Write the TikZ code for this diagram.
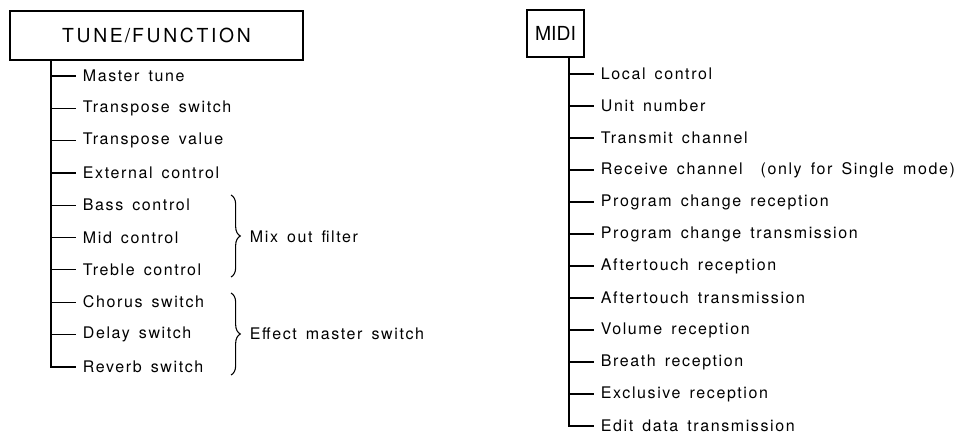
\documentclass[tikz,border=0pt]{standalone}
\usepackage{fontspec}
\setmainfont{TeX Gyre Heros}
\newfontfamily\spacedfont[LetterSpace=10, WordSpace=1.5]{TeX Gyre Heros}
\newfontfamily\headfont{TeX Gyre Heros}
\usetikzlibrary{positioning, calc, decorations.pathreplacing}

\begin{document}
\begin{tikzpicture}[x=0.75pt, y=-0.75pt,
  titlebox/.style={draw, line width=0.9pt, inner sep=0pt, font=\headfont\fontsize{14.5}{16}\selectfont},
  entry/.style={anchor=west, inner xsep=5pt, inner ysep=2pt, font=\spacedfont\fontsize{12}{14}\selectfont},
  trunk/.style={line width=1.3pt},
  twig/.style={line width=0.9pt},
  groupbrace/.style={decorate, decoration={brace, amplitude=7pt}, line width=0.8pt}]
  \useasboundingbox (0,0) rectangle (959,435);

  % TUNE/FUNCTION tree
  \node[titlebox, minimum width=219.75pt, minimum height=36.75pt] (tf) at (156.5,35.5)
    {\addfontfeature{LetterSpace=14}TUNE\kern1.5pt/\kern1.5pt FUNCTION};
  \coordinate (tfaxis) at (51,0);
  \foreach \txt [count=\i] in {Master tune, Transpose switch, Transpose value, External control,
      Bass control, Mid control, Treble control, Chorus switch, Delay switch, Reverb switch}
    \node[entry] (tf\i) at (76,{76+32.3*(\i-1)}) {\txt};
  \draw[trunk] (tf.south -| tfaxis) |- (tf10.west);
  \foreach \i in {1,...,9}
    \draw[twig] (tf\i.west -| tfaxis) -- (tf\i.west);

  % groups
  \draw[groupbrace] (231,195) -- (231,277) coordinate[midway] (mixtip);
  \node[entry] (mix) at (243,237) {Mix out filter};
  \draw[groupbrace] (231,293) -- (231,375) coordinate[midway] (fxtip);
  \node[entry] (fx) at (243,334) {Effect master switch};

  % MIDI tree
  \node[titlebox, minimum width=42.75pt, minimum height=35.25pt] (midi) at (555.5,33.5) {MIDI};
  \coordinate (midiaxis) at (569,0);
  \foreach \txt [count=\i] in {Local control, Unit number, Transmit channel,
      Receive channel \ (only for Single mode), Program change reception,
      Program change transmission, Aftertouch reception, Aftertouch transmission,
      Volume reception, Breath reception, Exclusive reception, Edit data transmission}
    \node[entry] (md\i) at (594,{74+32*(\i-1)}) {\txt};
  \draw[trunk] (midi.south -| midiaxis) |- (md12.west);
  \foreach \i in {1,...,11}
    \draw[twig] (md\i.west -| midiaxis) -- (md\i.west);
\end{tikzpicture}
\end{document}
